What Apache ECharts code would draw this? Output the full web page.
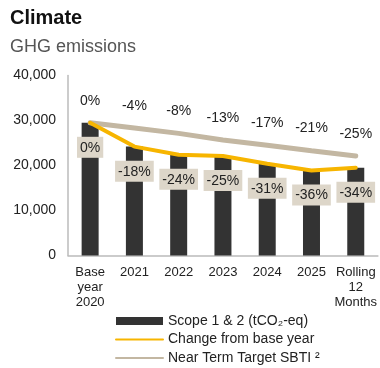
<!DOCTYPE html>
<html>
<head>
<meta charset="utf-8">
<script src="https://cdn.jsdelivr.net/npm/echarts@6/dist/echarts.min.js"></script>
<style>
  html, body { margin: 0; padding: 0; background: #fff; }
  #chart { width: 380px; height: 368px; }
</style>
</head>
<body>
<div id="chart"></div>
<script>
// GHG emissions, Scope 1 & 2, against the base year and the SBTi near-term path
const categories = ['Base\nyear\n2020', '2021', '2022', '2023', '2024', '2025', 'Rolling\n12\nMonths'];
const scopeEmissions = [29500, 24200, 22400, 22100, 20400, 18900, 19500];
const changeLabels = ['0%', '-18%', '-24%', '-25%', '-31%', '-36%', '-34%'];
const targetEmissions = [29500, 28320, 27140, 25670, 24490, 23300, 22130];
const targetLabels = ['0%', '-4%', '-8%', '-13%', '-17%', '-21%', '-25%'];
const yTicks = { min: 0, max: 40000, interval: 10000 };

const FONT = '"Liberation Sans", Arial, Helvetica, sans-serif';
const chart = echarts.init(document.getElementById('chart'), null, { renderer: 'canvas' });

chart.setOption({
  animation: false,
  backgroundColor: '#ffffff',
  textStyle: { fontFamily: FONT },
  title: [
    { text: 'Climate', left: 10, top: 8, padding: 0,
      textStyle: { fontFamily: FONT, fontSize: 20, fontWeight: 'bold', color: '#111111' } },
    { text: 'GHG emissions', left: 10, top: 38, padding: 0,
      textStyle: { fontFamily: FONT, fontSize: 18, fontWeight: 'normal', color: '#555555' } }
  ],
  grid: { left: 68, top: 75.5, width: 311, height: 180, containLabel: false },
  legend: {
    orient: 'vertical',
    left: 115,
    top: 314,
    padding: 0,
    itemWidth: 47,
    itemHeight: 8,
    itemGap: 4.5,
    textStyle: { fontFamily: FONT, fontSize: 14, color: '#222222', lineHeight: 14 },
    data: [
      { name: 'Scope 1 & 2 (tCO₂-eq)', icon: 'rect' },
      { name: 'Change from base year', itemStyle: { opacity: 0 } },
      { name: 'Near Term Target SBTI ²', itemStyle: { opacity: 0 } }
    ]
  },
  xAxis: {
    type: 'category',
    data: categories,
    axisLine: { lineStyle: { color: '#bbbbbb', width: 1.5 } },
    axisTick: { show: false },
    axisLabel: { fontFamily: FONT, fontSize: 13, color: '#222222', lineHeight: 15, margin: 9, interval: 0 }
  },
  yAxis: {
    type: 'value',
    min: yTicks.min,
    max: yTicks.max,
    interval: yTicks.interval,
    splitLine: { show: false },
    axisLine: { show: true, lineStyle: { color: '#bbbbbb', width: 1.5 } },
    axisTick: { show: false },
    axisLabel: {
      fontFamily: FONT, fontSize: 14, color: '#222222', margin: 12,
      formatter: v => v.toLocaleString('en-US')
    }
  },
  series: [
    {
      name: 'Scope 1 & 2 (tCO₂-eq)',
      type: 'bar',
      data: scopeEmissions,
      barWidth: 17,
      itemStyle: { color: '#333333' },
      z: 1
    },
    {
      name: 'Near Term Target SBTI ²',
      type: 'line',
      data: targetEmissions,
      symbol: 'circle',
      symbolSize: 0.1,
      lineStyle: { color: '#c3b7a2', width: 5, cap: 'round' },
      itemStyle: { color: '#c3b7a2' },
      label: {
        show: true,
        position: 'top',
        distance: 15,
        fontFamily: FONT,
        fontSize: 14,
        color: '#222222',
        formatter: p => targetLabels[p.dataIndex]
      },
      z: 2
    },
    {
      name: 'Change from base year',
      type: 'line',
      data: scopeEmissions,
      symbol: 'circle',
      symbolSize: 0.1,
      lineStyle: { color: '#f7b500', width: 4, cap: 'round' },
      itemStyle: { color: '#f7b500' },
      label: {
        show: true,
        position: 'bottom',
        distance: 14,
        fontFamily: FONT,
        fontSize: 14,
        color: '#222222',
        backgroundColor: '#ddd6c9',
        padding: [4, 3, 3, 3],
        formatter: p => changeLabels[p.dataIndex]
      },
      z: 3
    }
  ]
});
</script>
</body>
</html>
